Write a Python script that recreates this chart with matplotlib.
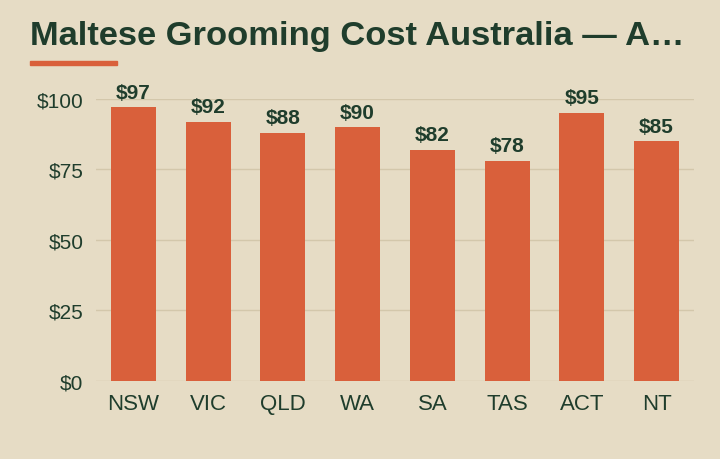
"""Maltese grooming cost by state"""
import matplotlib.pyplot as plt
from matplotlib.patches import Rectangle

states = ["NSW", "VIC", "QLD", "WA", "SA", "TAS", "ACT", "NT"]
costs = [97, 92, 88, 90, 82, 78, 95, 85]
yticks = [0, 25, 50, 75, 100]
title = "Maltese Grooming Cost Australia \u2014 A\u2026"

bg = "#E6DCC5"
bar_color = "#D9603B"
ink = "#1F3D2C"
grid_color = "#D3C7AB"

plt.rcParams["font.family"] = ["Liberation Sans", "DejaVu Sans"]

fig = plt.figure(figsize=(7.2, 4.6), dpi=100, facecolor=bg)
ax = fig.add_axes([0.1333, 0.1696, 0.8306, 0.613])
ax.set_facecolor(bg)

x = list(range(len(states)))
ax.bar(x, costs, width=0.6, color=bar_color, zorder=2)
for xi, v in zip(x, costs):
  ax.text(xi, v + 2.0, f"${v}", ha="center", va="bottom", fontsize=15,
          fontweight="bold", color=ink, clip_on=False)

ax.set_xlim(-0.5, len(states) - 0.5)
ax.set_ylim(0, 100)
ax.set_yticks(yticks)
ax.set_yticklabels([f"${t}" for t in yticks])
ax.set_xticks(x)
ax.set_xticklabels(states)
ax.tick_params(axis="both", length=0, colors=ink)
ax.tick_params(axis="x", pad=9, labelsize=16)
ax.tick_params(axis="y", pad=9, labelsize=15)
ax.grid(axis="y", color=grid_color, linewidth=1, zorder=0)
for s in ax.spines.values():
  s.set_visible(False)

fig.text(30 / 720, 1 - 37 / 460, title, ha="left", va="center", fontsize=24.8,
         fontweight="bold", color=ink)
fig.patches.append(Rectangle((30 / 720, 1 - 66 / 460), 87 / 720, 4 / 460,
                             transform=fig.transFigure, color=bar_color))

fig.savefig("out.png", dpi=100, facecolor=bg)
